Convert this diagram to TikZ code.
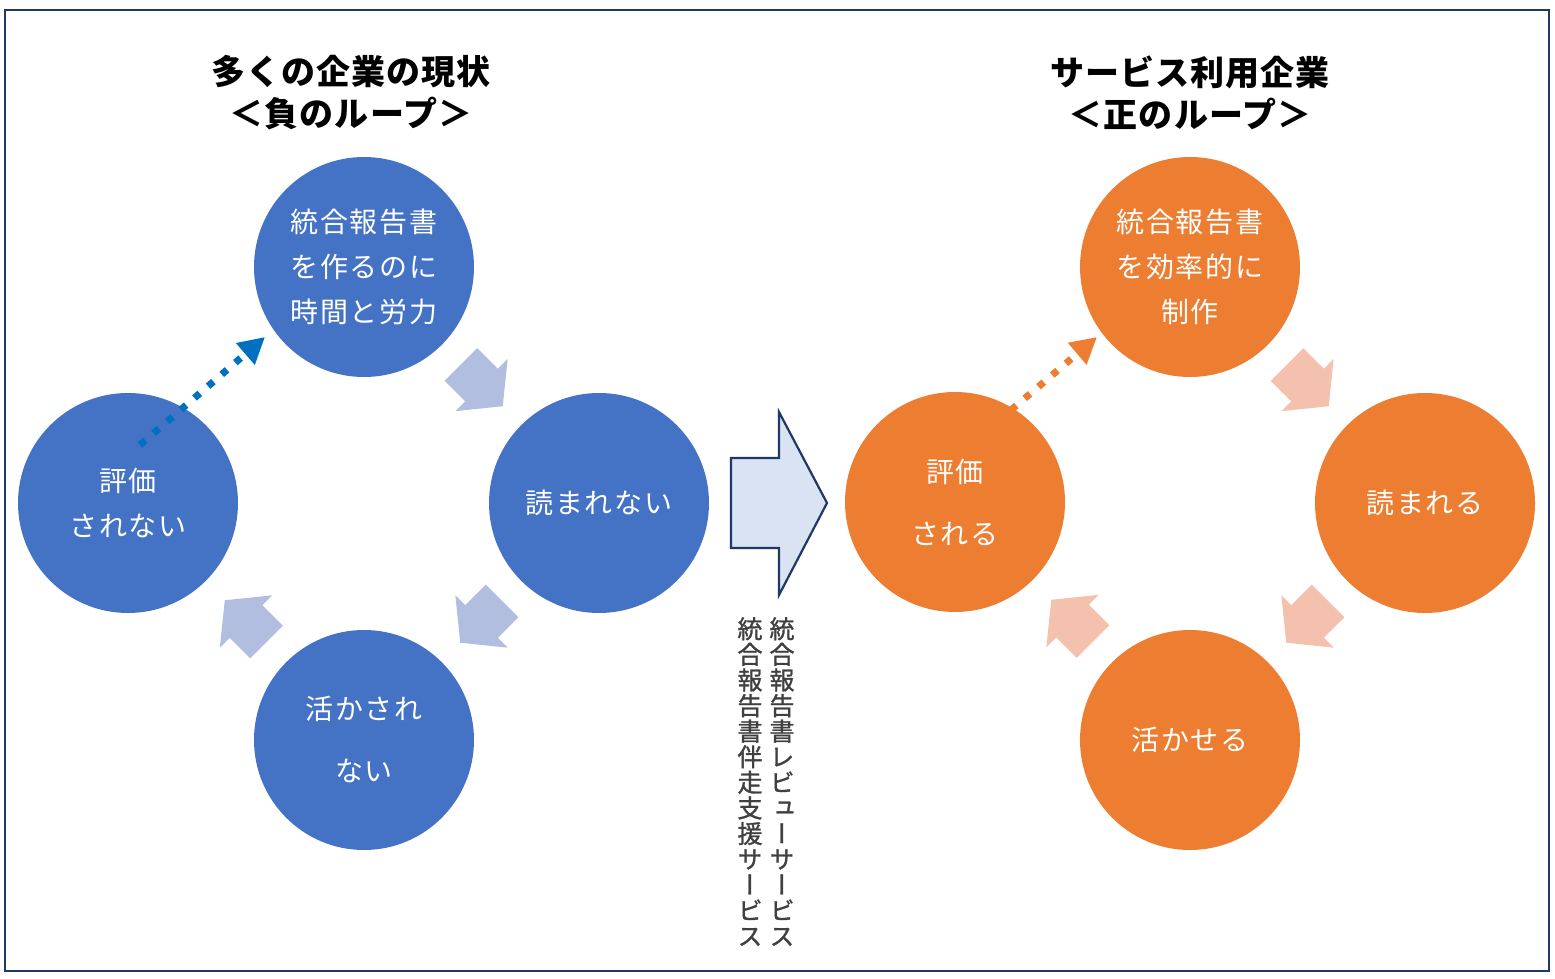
\documentclass[tikz,border=0pt]{standalone}
\usepackage{fontspec}
\usetikzlibrary{arrows.meta,calc}
\newfontfamily\jpcirc{Noto Sans CJK JP}[LetterSpace=6]
\newfontfamily\jptitle{Noto Sans CJK JP}[LetterSpace=3]
\newfontfamily\jpvert{Noto Sans CJK JP}[RawFeature=+vert, FakeBold=1.2]
\definecolor{cblue}{HTML}{4472C4}
\definecolor{corange}{HTML}{ED7D31}
\definecolor{lblue}{HTML}{B1BEDF}
\definecolor{lorange}{HTML}{F4C1AE}
\definecolor{dblue}{HTML}{0070C0}
\definecolor{navy}{HTML}{1F3864}
\definecolor{pblue}{HTML}{DAE3F3}
\definecolor{vgray}{HTML}{404040}
\begin{document}
\begin{tikzpicture}[x=1pt,y=-1pt,
  circbase/.style={circle, minimum size=220pt, inner sep=0pt, text=white, align=center,
    font=\jpcirc\fontsize{28}{45}\selectfont},
  bcirc/.style={circbase, fill=cblue},
  ocirc/.style={circbase, fill=corange},
  ttl/.style={align=center, inner sep=0pt, font=\jptitle\bfseries\fontsize{34}{42}\selectfont},
  vtext/.style={align=center, inner sep=0pt, text=vgray, font=\jpvert\fontsize{25}{25.6}\selectfont},
  dotarr/.style={line width=7pt, dash pattern=on 7pt off 11pt, -{Triangle[length=26pt,width=27pt]}},
  blockarr/.pic={\fill[pic actions] (-29,-23) -- (0,-23) -- (0,-37) -- (30,0) -- (0,37) -- (0,23) -- (-29,23) -- cycle;}
]
\useasboundingbox (0,0) rectangle (1555,979);
\fill[white] (0,0) rectangle (1555,979);
\draw[navy, line width=2.5pt] (5,10) rectangle (1549,971);

% titles
\node[ttl] (T1) at (351,93) {多くの企業の現状\\＜負のループ＞};
\node[ttl] (T2) at (1190,93) {サービス利用企業\\＜正のループ＞};

% left loop
\node[bcirc] (L1) at (364,267) {統合報告書\\を作るのに\\時間と労力};
\node[bcirc] (L2) at (599,503) {読まれない};
\node[bcirc] (L3) at (364,740) {活かされ\\[17pt]ない};
\node[bcirc] (L4) at (128,503) {評価\\されない};

\pic[fill=lblue, rotate=-45] (AL1) at ($(L1)!0.5!(L2)$) {blockarr};
\pic[fill=lblue, rotate=-135] (AL2) at ($(L2)!0.5!(L3)$) {blockarr};
\pic[fill=lblue, rotate=135] (AL3) at ($(L3)!0.5!(L4)$) {blockarr};

\coordinate (DL1) at (140,445);
\coordinate (DL2) at (265,337);
\draw[dotarr, dblue] (DL1) -- (DL2);

% right loop
\node[ocirc] (R1) at (1190,267) {統合報告書\\を効率的に\\制作};
\node[ocirc] (R2) at (1425,503) {読まれる};
\node[ocirc] (R3) at (1190,740) {活かせる};
\node[ocirc] (R4) at (955,502) {評価\\[17pt]される};

\pic[fill=lorange, rotate=-45] (AR1) at ($(R1)!0.5!(R2)$) {blockarr};
\pic[fill=lorange, rotate=-135] (AR2) at ($(R2)!0.5!(R3)$) {blockarr};
\pic[fill=lorange, rotate=135] (AR3) at ($(R3)!0.5!(R4)$) {blockarr};

\coordinate (DR1) at (1011,410);
\coordinate (DR2) at (1097,337);
\draw[dotarr, corange] (DR1) -- (DR2);

% central arrow
\draw[navy, fill=pblue, line width=2.2pt, line join=miter]
  (731,458) -- (779,458) -- (779,412) -- (827,503) -- (779,595) -- (779,548) -- (731,548) -- cycle;

% vertical text
\node[vtext] (V1) at (782,781.5) {統\\合\\報\\告\\書\\レ\\ビ\\ュ\\ー\\サ\\ー\\ビ\\ス};
\node[vtext] (V2) at (750,781.5) {統\\合\\報\\告\\書\\伴\\走\\支\\援\\サ\\ー\\ビ\\ス};
\end{tikzpicture}
\end{document}
